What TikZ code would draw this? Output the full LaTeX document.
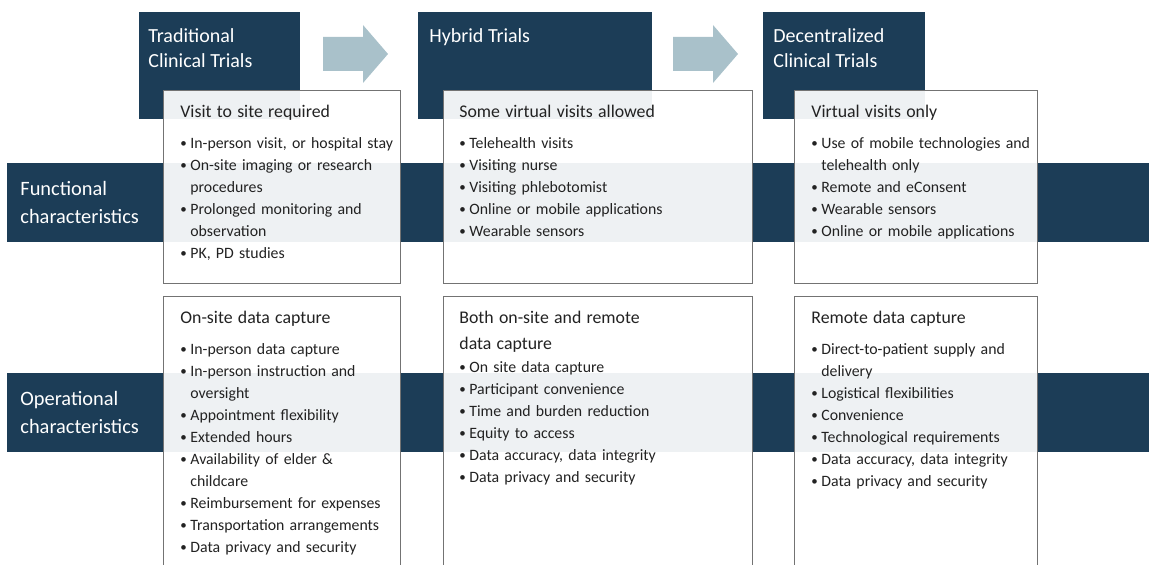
\documentclass[tikz,border=0pt]{standalone}
\usepackage{fontspec}
\setmainfont{Carlito}
\usetikzlibrary{positioning}

\definecolor{navy}{HTML}{1C3D57}
\definecolor{arrowblue}{HTML}{A9C1CA}
\definecolor{bodytext}{HTML}{222222}

\newcommand{\bitem}[1]{\par\hangindent=5pt\hangafter=1\noindent
  \makebox[5pt][l]{\raisebox{0.5pt}{\fontsize{6.5}{6.5}\selectfont\textbullet}}#1}
\newcommand{\ttl}[2][4.5pt]{{\fontsize{8.9}{13}\selectfont #2\par}\vspace{#1}}

\tikzset{
  band/.style={fill=navy, inner sep=0, outer sep=0, anchor=north west,
    minimum width=575pt, minimum height=39.5pt},
  bandtext/.style={inner sep=0, anchor=west, align=left, text=white,
    font=\fontsize{10.2}{14}\selectfont},
  hdr/.style={fill=navy, inner sep=0, outer sep=0, anchor=north west,
    minimum height=53.5pt},
  hdrtext/.style={inner sep=0, anchor=north west, align=left, text=white,
    font=\fontsize{10}{12.5}\selectfont},
  card/.style={fill=white, fill opacity=0.93, draw=black!55, line width=0.5pt,
    inner sep=0, outer sep=0, anchor=north west},
  cardtext/.style={inner sep=0, anchor=north west, align=left, text=bodytext,
    text width=150pt, font=\fontsize{7.9}{11}\selectfont}
}

\begin{document}
\begin{tikzpicture}[x=0.5pt,y=-0.5pt]
\useasboundingbox (0,0) rectangle (1149,565);
\clip (0,0) rectangle (1149,565);

% row bands
\node[band] (fband) at (7,163) {};
\node[band] (oband) at (7,373) {};
\node[bandtext, right=6.5pt of fband.west] (flabel) {Functional\\characteristics};
\node[bandtext, right=6.5pt of oband.west] (olabel) {Operational\\characteristics};

% column heads
\node[hdr, minimum width=80.5pt] (trad) at (139,12) {};
\node[hdr, minimum width=117pt] (hyb) at (418,12) {};
\node[hdr, minimum width=81pt] (dec) at (763,12) {};
\node[hdrtext, below right=8pt and 4.5pt of trad.north west] (tradtxt) {Traditional\\Clinical Trials};
\node[hdrtext, below right=8pt and 5.5pt of hyb.north west] (hybtxt) {Hybrid Trials};
\node[hdrtext, below right=8pt and 5pt of dec.north west] (dectxt) {Decentralized\\Clinical Trials};

% arrows between heads
\foreach \ax in {323,673}
  \fill[arrowblue] (\ax,37) -- ++(40,0) -- ++(0,-12) -- ++(25,29) -- ++(-25,29)
    -- ++(0,-12) -- ++(-40,0) -- cycle;

% functional cards
\node[card, minimum width=118.5pt, minimum height=96.5pt] (f1) at (163,91) {};
\node[card, minimum width=154.5pt, minimum height=96.5pt] (f2) at (443,91) {};
\node[card, minimum width=121.5pt, minimum height=96.5pt] (f3) at (794,91) {};

\node[cardtext, below right=7pt and 8.5pt of f1.north west] (f1txt) {%
  \ttl{Visit to site required}
  \bitem{In-person visit, or hospital stay}
  \bitem{On-site imaging or research\newline procedures}
  \bitem{Prolonged monitoring and\newline observation}
  \bitem{PK, PD studies}};
\node[cardtext, below right=7pt and 8pt of f2.north west] (f2txt) {%
  \ttl{Some virtual visits allowed}
  \bitem{Telehealth visits}
  \bitem{Visiting nurse}
  \bitem{Visiting phlebotomist}
  \bitem{Online or mobile applications}
  \bitem{Wearable sensors}};
\node[cardtext, below right=7pt and 8.5pt of f3.north west] (f3txt) {%
  \ttl{Virtual visits only}
  \bitem{Use of mobile technologies and\newline telehealth only}
  \bitem{Remote and eConsent}
  \bitem{Wearable sensors}
  \bitem{Online or mobile applications}};

% operational cards
\node[card, minimum width=118.5pt, minimum height=139pt] (o1) at (163,297) {};
\node[card, minimum width=154.5pt, minimum height=139pt] (o2) at (443,297) {};
\node[card, minimum width=121.5pt, minimum height=139pt] (o3) at (794,297) {};

\node[cardtext, below right=7pt and 8.5pt of o1.north west] (o1txt) {%
  \ttl{On-site data capture}
  \bitem{In-person data capture}
  \bitem{In-person instruction and\newline oversight}
  \bitem{Appointment flexibility}
  \bitem{Extended hours}
  \bitem{Availability of elder \&\newline childcare}
  \bitem{Reimbursement for expenses}
  \bitem{Transportation arrangements}
  \bitem{Data privacy and security}};
\node[cardtext, below right=7pt and 8pt of o2.north west] (o2txt) {%
  \ttl[0.5pt]{Both on-site and remote\\data capture}
  \bitem{On site data capture}
  \bitem{Participant convenience}
  \bitem{Time and burden reduction}
  \bitem{Equity to access}
  \bitem{Data accuracy, data integrity}
  \bitem{Data privacy and security}};
\node[cardtext, below right=7pt and 8.5pt of o3.north west] (o3txt) {%
  \ttl{Remote data capture}
  \bitem{Direct-to-patient supply and\newline delivery}
  \bitem{Logistical flexibilities}
  \bitem{Convenience}
  \bitem{Technological requirements}
  \bitem{Data accuracy, data integrity}
  \bitem{Data privacy and security}};
\end{tikzpicture}
\end{document}
